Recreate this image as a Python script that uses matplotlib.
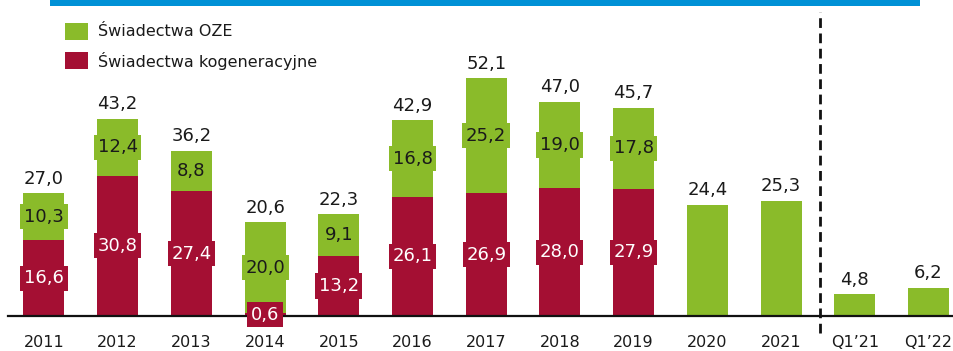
import numpy as np
import matplotlib.pyplot as plt
from matplotlib.patches import Rectangle
from matplotlib.lines import Line2D

okresy = ["2011", "2012", "2013", "2014", "2015", "2016", "2017", "2018", "2019",
          "2020", "2021", "Q1\u201921", "Q1\u201922"]
kogeneracyjne = [16.6, 30.8, 27.4, 0.6, 13.2, 26.1, 26.9, 28.0, 27.9, 0, 0, 0, 0]
oze = [10.3, 12.4, 8.8, 20.0, 9.1, 16.8, 25.2, 19.0, 17.8, 24.4, 25.3, 4.8, 6.2]
sumy = [27.0, 43.2, 36.2, 20.6, 22.3, 42.9, 52.1, 47.0, 45.7, 24.4, 25.3, 4.8, 6.2]
pokaz_segmenty = 9   # od 2020 tylko jeden rodzaj świadectw, bez etykiet w środku

ZIELONY = "#8abb2a"
CZERWONY = "#a40f33"
NIEBIESKI = "#0091d6"
TEKST = "#1a1a1a"

def fmt(v):
    return f"{v:.1f}".replace(".", ",")

W, H = 954, 351
fig = plt.figure(figsize=(W / 100, H / 100), dpi=100)
# oś: od 8 px z lewej do prawej krawędzi, linia bazowa 35 px od dołu
ax = fig.add_axes([8 / W, 35 / H, 1 - 8 / W, 1 - 35 / H])

x = np.arange(len(okresy))
szer = 0.556
ax.bar(x, kogeneracyjne, szer, color=CZERWONY, zorder=2)
ax.bar(x, oze, szer, bottom=kogeneracyjne, color=ZIELONY, zorder=2)

ax.set_xlim(-0.488, 12.347)
ax.set_ylim(0, 69.3)

for i in range(len(okresy)):
    k, o = kogeneracyjne[i], oze[i]
    if i < pokaz_segmenty:
        ax.text(i, k / 2, fmt(k), ha="center", va="center", fontsize=13,
                color="white", zorder=4, clip_on=False,
                bbox=dict(boxstyle="square,pad=0.2", fc=CZERWONY, ec="none"))
        ax.text(i, k + o / 2, fmt(o), ha="center", va="center", fontsize=13,
                color=TEKST, zorder=4,
                bbox=dict(boxstyle="square,pad=0.2", fc=ZIELONY, ec="none"))
    ax.annotate(fmt(sumy[i]), (i, k + o), xytext=(0, 4), textcoords="offset points",
                ha="center", va="bottom", fontsize=13, color=TEKST)

ax.set_xticks(x)
ax.set_xticklabels(okresy, fontsize=11.5, color=TEKST)
ax.tick_params(axis="x", length=0, pad=14)
ax.set_yticks([])
for s in ["top", "right", "left"]:
    ax.spines[s].set_visible(False)
ax.spines["bottom"].set_linewidth(1.6)
ax.spines["bottom"].set_color("#111111")
ax.spines["bottom"].set_zorder(3)

# przerywana linia oddzielająca dane roczne od kwartalnych
fig.add_artist(Line2D([820 / W, 820 / W], [(H - 333) / H, (H - 12) / H],
                      color="#111111", lw=2, ls=(0, (3.5, 2))))

# niebieski pasek u góry
fig.add_artist(Rectangle((50 / W, (H - 6) / H), 870 / W, 6 / H,
                         color=NIEBIESKI, lw=0))

# legenda
for j, (kolor, opis) in enumerate([(ZIELONY, "Świadectwa OZE"),
                                    (CZERWONY, "Świadectwa kogeneracyjne")]):
    gora = 23 + j * 29
    fig.add_artist(Rectangle((65 / W, (H - gora - 17) / H), 23 / W, 17 / H,
                             color=kolor, lw=0))
    fig.text(98 / W, (H - gora - 8.5) / H, opis, ha="left", va="center",
             fontsize=11.5, color=TEKST)

fig.savefig("out.png", dpi=100)
